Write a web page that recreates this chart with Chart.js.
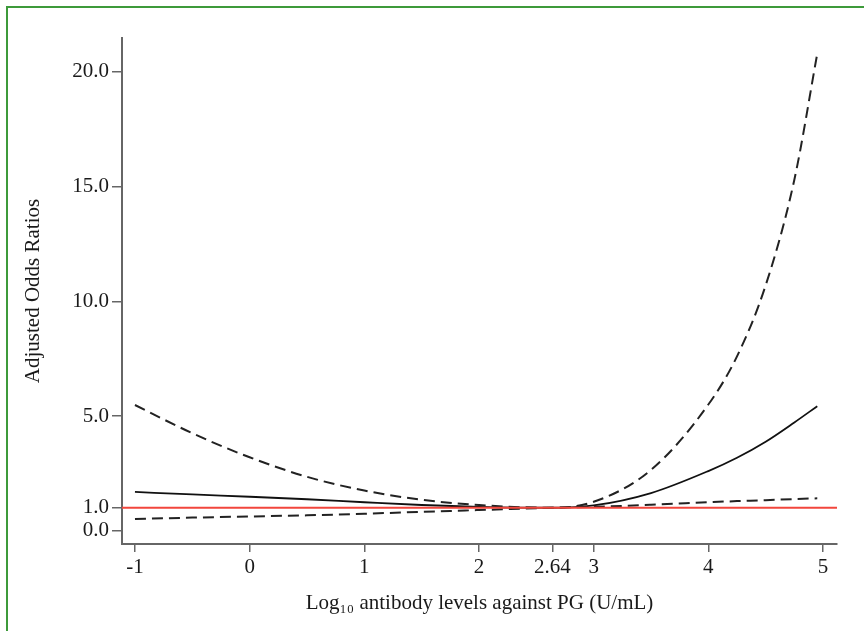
<!DOCTYPE html>
<html>
<head>
<meta charset="utf-8">
<script src="https://cdn.jsdelivr.net/npm/chart.js@4.4.1/dist/chart.umd.min.js"></script>
<style>
html,body{margin:0;padding:0;background:#fff;}
#wrap{position:relative;width:864px;height:631px;}
#frame{position:absolute;left:6px;top:6px;width:900px;height:700px;border-left:2px solid #3d9a3a;border-top:2px solid #3d9a3a;pointer-events:none;}
canvas{position:absolute;left:0;top:0;}
</style>
</head>
<body>
<div id="wrap">
<canvas id="c" width="864" height="631"></canvas>
<div id="frame"></div>
</div>
<script>
// Data
const xValues = [-1, -0.5, 0, 0.5, 1, 1.5, 2, 2.64, 3, 3.5, 4, 4.25, 4.5, 4.75, 4.95];
const oddsRatio = [1.69, 1.58, 1.48, 1.37, 1.24, 1.12, 1.04, 1.0, 1.1, 1.64, 2.6, 3.18, 3.88, 4.72, 5.43];
const upperCI = [5.48, 4.25, 3.2, 2.35, 1.75, 1.35, 1.12, 1.0, 1.26, 2.65, 5.5, 7.6, 10.7, 15.3, 20.8];
const lowerCI = [0.51, 0.57, 0.62, 0.67, 0.74, 0.82, 0.9, 1.0, 1.04, 1.13, 1.24, 1.29, 1.33, 1.38, 1.41];
const referenceOR = 1.0;
const xTickValues = [-1, 0, 1, 2, 2.64, 3, 4, 5];
const xTickLabels = ["-1", "0", "1", "2", "2.64", "3", "4", "5"];
const yTickValues = [0, 1, 5, 10, 15, 20];
const yTickLabels = ["0.0", "1.0", "5.0", "10.0", "15.0", "20.0"];
const xMin = -1.113, xMax = 5.122;
const yMin = -0.58, yMax = 21.48;

const pts = (ys) => xValues.map((x, i) => ({x: x, y: ys[i]}));
const FONT = "'Liberation Serif', 'Times New Roman', serif";
const TXT = '#1a1a1a';
const AX = '#666';

new Chart(document.getElementById('c'), {
  type: 'line',
  data: {
    datasets: [
      {label: 'Reference', data: [{x: xMin, y: referenceOR}, {x: xMax, y: referenceOR}], borderColor: '#f2463c', borderWidth: 2, pointRadius: 0, tension: 0},
      {label: 'Upper 95% CI', data: pts(upperCI), borderColor: '#222', borderWidth: 2, borderDash: [11, 6], pointRadius: 0, cubicInterpolationMode: 'monotone'},
      {label: 'Lower 95% CI', data: pts(lowerCI), borderColor: '#222', borderWidth: 2, borderDash: [11, 6], pointRadius: 0, cubicInterpolationMode: 'monotone'},
      {label: 'Adjusted OR', data: pts(oddsRatio), borderColor: '#111', borderWidth: 1.8, pointRadius: 0, cubicInterpolationMode: 'monotone'}
    ]
  },
  options: {
    responsive: false,
    animation: false,
    devicePixelRatio: 1,
    layout: {padding: {left: 0, top: 38, right: 27, bottom: 0}},
    plugins: {legend: {display: false}, tooltip: {enabled: false}},
    scales: {
      x: {
        type: 'linear', min: xMin, max: xMax,
        afterBuildTicks: (s) => { s.ticks = xTickValues.map(v => ({value: v})); },
        afterFit: (s) => { s.height = 87; },
        ticks: {
          autoSkip: false, maxRotation: 0, padding: 3, color: TXT,
          font: {family: FONT, size: 21},
          callback: (v) => { const i = xTickValues.indexOf(v); return i >= 0 ? xTickLabels[i] : ''; }
        },
        grid: {display: true, drawOnChartArea: false, drawTicks: true, tickLength: 8, color: AX, lineWidth: 1.5},
        border: {display: true, color: AX, width: 2},
        title: {display: true, text: 'Log\u2081\u2080 antibody levels against PG (U/mL)', color: TXT, font: {family: FONT, size: 21}, padding: {top: 0, bottom: 15}}
      },
      y: {
        type: 'linear', min: yMin, max: yMax,
        afterBuildTicks: (s) => { s.ticks = yTickValues.map(v => ({value: v})); },
        afterFit: (s) => { s.width = 122; },
        ticks: {
          autoSkip: false, padding: 3, color: TXT,
          font: {family: FONT, size: 21},
          callback: (v) => { const i = yTickValues.indexOf(v); return i >= 0 ? yTickLabels[i] : ''; }
        },
        grid: {display: true, drawOnChartArea: false, drawTicks: true, tickLength: 10, color: AX, lineWidth: 1.5},
        border: {display: true, color: AX, width: 2},
        title: {display: true, text: 'Adjusted Odds Ratios', color: TXT, font: {family: FONT, size: 21}, padding: {top: 21, bottom: 0}}
      }
    }
  }
});
</script>
</body>
</html>
